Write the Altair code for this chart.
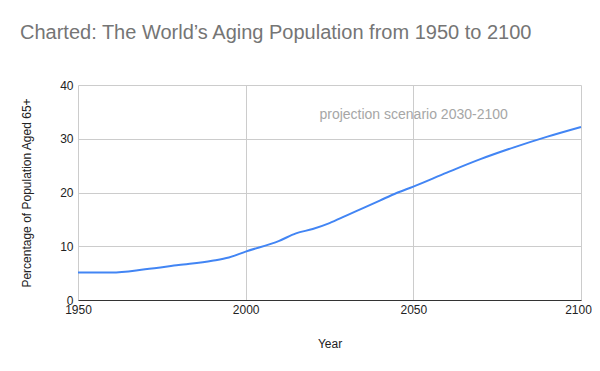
import altair as alt
import pandas as pd

years = [1950, 1960, 1970, 1980, 1990, 1995, 2000, 2010, 2015, 2020, 2025, 2030,
         2035, 2040, 2045, 2050, 2060, 2070, 2080, 2090, 2100]
share = [5.1, 5.1, 5.7, 6.5, 7.3, 7.9, 9.0, 11.0, 12.4, 13.2, 14.3, 15.7,
         17.1, 18.5, 19.9, 21.1, 23.7, 26.2, 28.4, 30.4, 32.2]

note_text = ["projection scenario 2030-2100"]
note_x = [2022]
note_y = [34.4]

x_ticks = [1950, 2000, 2050, 2100]
y_ticks = [0, 10, 20, 30, 40]

df = pd.DataFrame({"Year": years, "Share": share})
notes = pd.DataFrame({"Year": note_x, "Share": note_y, "label": note_text})

FONT = "Liberation Sans"

x_enc = alt.X("Year:Q",
              scale=alt.Scale(domain=[1950, 2100], nice=False, zero=False),
              axis=alt.Axis(values=x_ticks, format="d", title="Year", labelFlush=False,
                            labelOffset={"condition": {"test": "datum.value == 2100", "value": -3},
                                         "value": 0},
                            titlePadding=23, labelPadding=4))
y_enc = alt.Y("Share:Q",
              scale=alt.Scale(domain=[0, 40], nice=False),
              axis=alt.Axis(values=y_ticks, title="Percentage of Population Aged 65+",
                            titlePadding=26, labelPadding=5, domain=False))

line = alt.Chart(df).mark_line(color="#4285F4", strokeWidth=2, interpolate="monotone").encode(
    x=x_enc, y=y_enc)

note = alt.Chart(notes).mark_text(align="left", baseline="middle", fontSize=14,
                                  color="#a6a6a6", font=FONT).encode(
    x="Year:Q", y="Share:Q", text="label:N")

chart = alt.layer(line, note).properties(
    width=503, height=215,
    autosize=alt.AutoSizeParams(type="none"),
    padding={"left": 70, "top": 77, "right": 11, "bottom": 56},
    title=alt.TitleParams("Charted: The World\u2019s Aging Population from 1950 to 2100",
                          anchor="start", frame="group", dx=-58, offset=36,
                          fontSize=20, font=FONT, color="#757575", fontWeight="normal"),
).configure_view(stroke=None).configure_axis(
    labelFont=FONT, titleFont=FONT, labelFontSize=12, titleFontSize=12,
    labelColor="#222222", titleColor="#222222", titleFontWeight="normal",
    gridColor="#cccccc", ticks=False, domainColor="#333333", domainWidth=1,
)

chart.save("out.html", embed_options={"renderer": "svg", "actions": False})
